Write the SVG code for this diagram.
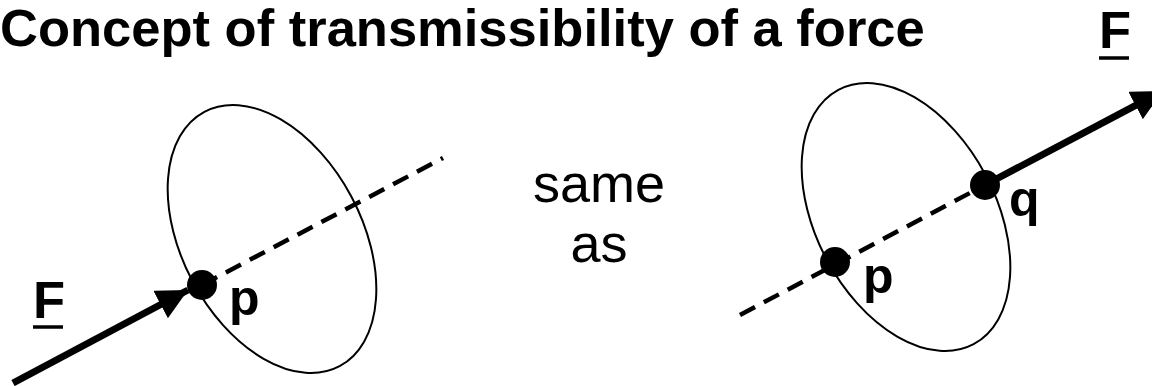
<svg xmlns="http://www.w3.org/2000/svg" width="1152" height="386" viewBox="0 0 1152 386">
  <style>
    .t { font-family: "Liberation Sans", Arial, Helvetica, sans-serif; fill: #000; }
    .b { font-weight: bold; }
    .body { fill: none; stroke: #000; stroke-width: 2; }
    .dash { fill: none; stroke: #000; stroke-width: 4.5; stroke-dasharray: 17 10; }
    .force { fill: none; stroke: #000; stroke-width: 7; }
    .ul { stroke: #000; stroke-width: 3.5; }
  </style>
  <defs>
    <marker id="head" viewBox="0 0 31 31" refX="31" refY="15.5" markerWidth="31" markerHeight="31" markerUnits="userSpaceOnUse" orient="auto">
      <path d="M0,0 L31,15.5 L0,31 Z" fill="#000"/>
    </marker>
  </defs>

  <text id="title" class="t b" x="0" y="46" font-size="52.5">Concept of transmissibility of a force</text>

  <g id="connectors">
    <line class="dash" x1="202" y1="285" x2="443" y2="158"/>
    <line class="force" x1="13" y1="383" x2="188" y2="290" marker-end="url(#head)"/>
    <line class="dash" x1="740" y1="315" x2="985" y2="185"/>
    <line class="force" x1="985" y1="185" x2="1163" y2="91" marker-end="url(#head)"/>
  </g>

  <g id="body-left">
    <ellipse class="body" cx="272" cy="239" rx="90" ry="144" transform="rotate(-28 272 239)"/>
  </g>
  <g id="point-p-left">
    <circle cx="202" cy="285" r="15" fill="#000"/>
    <text class="t b" x="229" y="315" font-size="50">p</text>
  </g>
  <g id="force-label-left">
    <text class="t b" x="33" y="318" font-size="52.5">F</text>
    <line class="ul" x1="33" y1="327" x2="63" y2="327"/>
  </g>

  <g id="same-as">
    <text class="t" x="599" y="202" font-size="54" text-anchor="middle">same</text>
    <text class="t" x="599" y="262" font-size="54" text-anchor="middle">as</text>
  </g>

  <g id="body-right">
    <ellipse class="body" cx="906" cy="217" rx="90" ry="144" transform="rotate(-28 906 217)"/>
  </g>
  <g id="point-p-right">
    <circle cx="835" cy="262" r="15" fill="#000"/>
    <text class="t b" x="863" y="293" font-size="50">p</text>
  </g>
  <g id="point-q">
    <circle cx="985" cy="185" r="15" fill="#000"/>
    <text class="t b" x="1009" y="216" font-size="50">q</text>
  </g>
  <g id="force-label-right">
    <text class="t b" x="1099" y="48" font-size="52.5">F</text>
    <line class="ul" x1="1099" y1="58" x2="1129" y2="58"/>
  </g>
</svg>
